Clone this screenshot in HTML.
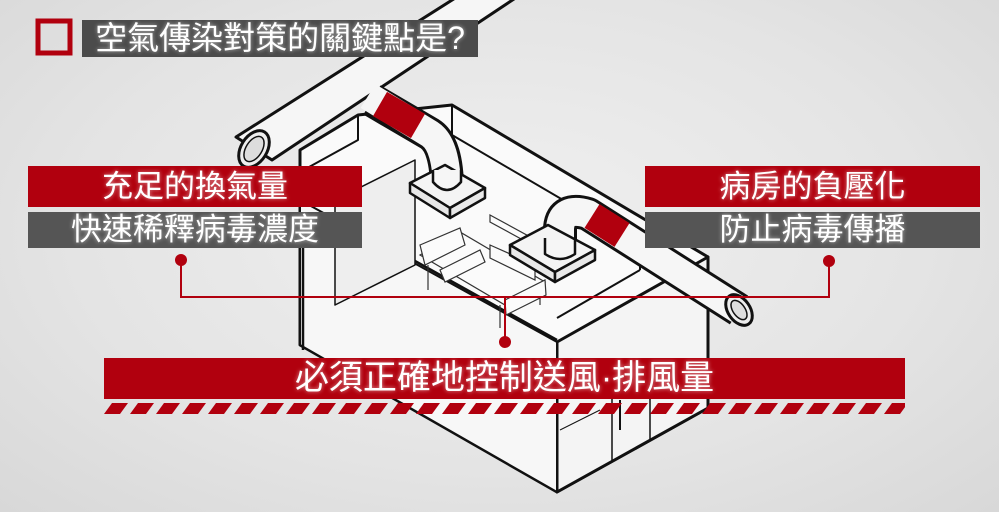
<!DOCTYPE html>
<html><head><meta charset="utf-8"><style>
html,body{margin:0;padding:0}
body{width:999px;height:512px;overflow:hidden;background:radial-gradient(ellipse at 50% 45%,#f0f0f0 0%,#e4e4e4 60%,#d8d8d8 100%);position:relative;font-family:"Liberation Sans","Noto Sans CJK TC",sans-serif}
svg{position:absolute;left:0;top:0}
.bar{position:absolute;color:#fff;text-align:center;white-space:nowrap;text-shadow:0 0 4px rgba(255,255,255,.6)}
.r{background:#b1000e}
.g{background:#4b4b4b}
</style></head><body>
<svg width="999" height="512" viewBox="0 0 999 512">
<g stroke="#111" stroke-width="3" stroke-linejoin="round" fill="#fafafa">
<polygon points="300,150 358,115 452,105 708,257 708,408 557,492 300,345"/>
<polygon points="557,342 708,257 708,408 557,492" fill="#f4f4f4"/>
<polygon points="300,345 557,492 557,342 300,200" fill="#f7f7f7" stroke-width="2"/>
<polyline points="345,222 557,340" fill="none" stroke-width="2.5"/>
<polyline points="303,220 303,350" fill="none" stroke-width="2.5"/>
<polygon points="335,200 415,160 415,265 335,305" fill="#eeeeee" stroke-width="1.5"/>
<polyline points="358,115 358,140 300,172" fill="none" stroke-width="2"/>
<polyline points="452,105 452,135 640,245 640,270" fill="none" stroke-width="2"/>
<polyline points="640,270 557,318" fill="none" stroke-width="2"/>
<polygon points="612,380 650,360 650,440 612,462" fill="none" stroke-width="1.5"/>
<line x1="620" y1="400" x2="620" y2="430" stroke-width="2"/>
<line x1="560" y1="430" x2="600" y2="410" stroke-width="1"/>
</g>
<g stroke="#333" stroke-width="1.2" fill="#fbfbfb">
<polygon points="420,255 460,232 545,282 505,305"/>
<polygon points="420,245 460,228 465,245 425,265" />
<polygon points="440,270 480,250 485,262 445,282" />
<line x1="428" y1="265" x2="428" y2="290"/><line x1="500" y1="305" x2="500" y2="328"/><line x1="540" y1="285" x2="540" y2="305"/>
<polygon points="505,300 545,280 546,295 506,315"/>
<polygon points="490,245 535,265 535,280 490,258"/>
<polygon points="490,215 545,245 545,252 490,222"/>
</g>
<g stroke="#111" stroke-width="3" stroke-linejoin="round">
<polygon points="236,137 460,-5 520,-5 272,160" fill="#f6f6f6"/>
<ellipse cx="254" cy="149" rx="13" ry="20" transform="rotate(32 254 149)" fill="#eee"/>
<ellipse cx="254" cy="149" rx="8" ry="14" transform="rotate(32 254 149)" fill="#ddd" stroke-width="1.5"/>
</g>
<g fill="none" stroke-linecap="butt">
<path d="M372,100 L430,134 Q447,145 447,190" stroke="#111" stroke-width="34"/>
<path d="M368,96 L430,134 Q447,145 447,192" stroke="#f6f6f6" stroke-width="28"/>
<path d="M380,104 L418,126" stroke="#b1000e" stroke-width="28"/>
</g>
<g stroke="#111" stroke-width="2.5" stroke-linejoin="round">
<polygon points="410,183 445,165 485,188 450,208" fill="#f4f4f4"/>
<polygon points="410,183 450,208 450,218 410,193" fill="#e8e8e8"/>
<polygon points="450,208 485,188 485,198 450,218" fill="#e8e8e8"/>
<path d="M433,180 Q447,198 461,180 L461,170 L433,170 Z" fill="#f6f6f6" stroke="none"/>
<path d="M433,170 L433,182 Q447,198 461,182 L461,170" fill="none"/>
</g>
<g fill="none" stroke-linejoin="round">
<path d="M560,252 L560,228 Q562,206 588,214 L739,310" stroke="#111" stroke-width="34"/>
<path d="M560,255 L560,228 Q562,206 588,214 L739,310" stroke="#f6f6f6" stroke-width="28"/>
<path d="M592,216 L622,235" stroke="#b1000e" stroke-width="28"/>
</g>
<g stroke="#111" stroke-width="3">
<ellipse cx="739" cy="310" rx="11" ry="17" transform="rotate(-35 739 310)" fill="#eee"/>
<ellipse cx="739" cy="310" rx="6" ry="11" transform="rotate(-35 739 310)" fill="#ddd" stroke-width="1.5"/>
</g>
<g stroke="#111" stroke-width="2.5" stroke-linejoin="round">
<polygon points="510,245 548,225 595,250 555,272" fill="#f4f4f4"/>
<polygon points="510,245 555,272 555,282 510,255" fill="#e8e8e8"/>
<polygon points="555,272 595,250 595,260 555,282" fill="#e8e8e8"/>
<path d="M545,240 L545,255 Q560,265 575,255 L575,240 Z" fill="#f6f6f6" stroke="none"/>
<path d="M545,238 L545,254 Q560,264 575,254 L575,240" fill="none"/>
</g>
<g stroke="#b1000e" stroke-width="2" fill="none">
<polyline points="181,260 181,297 829,297 829,261"/>
<line x1="505" y1="297" x2="505" y2="342"/>
</g>
<g fill="#b1000e"><circle cx="181" cy="260" r="6"/><circle cx="829" cy="261" r="6"/><circle cx="505" cy="342" r="6"/></g>
<defs><pattern id="st" width="26" height="11" patternUnits="userSpaceOnUse" x="104" y="403">
<polygon points="8,0 24,0 16,11 0,11" fill="#b1000e"/></pattern></defs>
<rect x="104" y="403" width="801" height="11" fill="url(#st)"/>
<rect x="38" y="21" width="32" height="32" fill="none" stroke="#b1000e" stroke-width="5"/>
</svg>
<div class="bar g" style="left:82px;top:20px;width:396px;height:37px;font-size:32px;line-height:37px">空氣傳染對策的關鍵點是?</div>
<div class="bar r" style="left:28px;top:166px;width:334px;height:41px;font-size:31px;line-height:41px">充足的換氣量</div>
<div class="bar g" style="left:28px;top:212px;width:334px;height:36px;font-size:31px;line-height:36px;background:#555">快速稀釋病毒濃度</div>
<div class="bar r" style="left:645px;top:166px;width:335px;height:41px;font-size:31px;line-height:41px">病房的負壓化</div>
<div class="bar g" style="left:645px;top:212px;width:335px;height:36px;font-size:31px;line-height:36px;background:#555">防止病毒傳播</div>
<div class="bar r" style="left:104px;top:358px;width:801px;height:41px;font-size:34px;line-height:41px">必須正確地控制送風·排風量</div>
</body></html>
